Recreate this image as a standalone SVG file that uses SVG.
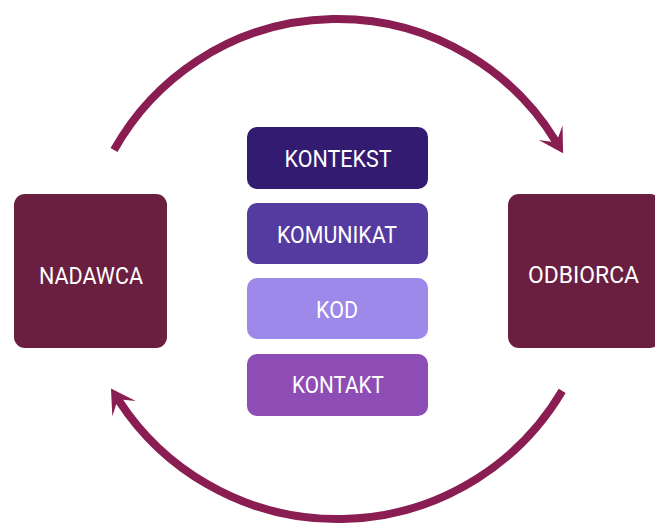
<svg xmlns="http://www.w3.org/2000/svg" width="655" height="525" viewBox="0 0 655 525">
<style>
.lbl{font-family:Roboto,"Liberation Sans",sans-serif;font-size:24px;fill:#ffffff;text-anchor:middle}
.arc{fill:none;stroke:#8a1d52;stroke-width:8;stroke-linecap:butt}
.party{fill:#6a1e40}
</style>
<defs>
<marker id="ah" markerUnits="userSpaceOnUse" markerWidth="40" markerHeight="40" viewBox="-20 -20 40 40" refX="0" refY="0" orient="auto" overflow="visible">
<path d="M14,0 L-10,-14 L-2,-4 L-2,4 L-10,14 Z" fill="#8a1d52"/>
</marker>
</defs>
<rect width="655" height="525" fill="#ffffff"/>
<g id="connectors">
<path class="arc" d="M114,150 A256,256 0 0 1 555.8,141.3" marker-end="url(#ah)"/>
<path class="arc" d="M562.2,390.9 A261,261 0 0 1 118.6,400.2" marker-end="url(#ah)"/>
</g>
<g id="nadawca">
<rect class="party" x="14" y="194" width="153" height="154" rx="11"/>
<text class="lbl" x="91" y="284" textLength="104" lengthAdjust="spacingAndGlyphs">NADAWCA</text>
</g>
<g id="odbiorca">
<rect class="party" x="508" y="194" width="153" height="154" rx="11"/>
<text class="lbl" x="583.5" y="283" textLength="111" lengthAdjust="spacingAndGlyphs">ODBIORCA</text>
</g>
<g id="kontekst">
<rect x="247" y="127" width="181" height="62" rx="10" fill="#331b72"/>
<text class="lbl" x="338" y="167" textLength="107" lengthAdjust="spacingAndGlyphs">KONTEKST</text>
</g>
<g id="komunikat">
<rect x="247" y="203" width="181" height="61" rx="10" fill="#553b9f"/>
<text class="lbl" x="337" y="243" textLength="120" lengthAdjust="spacingAndGlyphs">KOMUNIKAT</text>
</g>
<g id="kod">
<rect x="247" y="278" width="181" height="61" rx="10" fill="#9d89e9"/>
<text class="lbl" x="337" y="318" textLength="42" lengthAdjust="spacingAndGlyphs">KOD</text>
</g>
<g id="kontakt">
<rect x="247" y="354" width="181" height="62" rx="10" fill="#8e4db5"/>
<text class="lbl" x="338" y="393" textLength="92" lengthAdjust="spacingAndGlyphs">KONTAKT</text>
</g>
</svg>
